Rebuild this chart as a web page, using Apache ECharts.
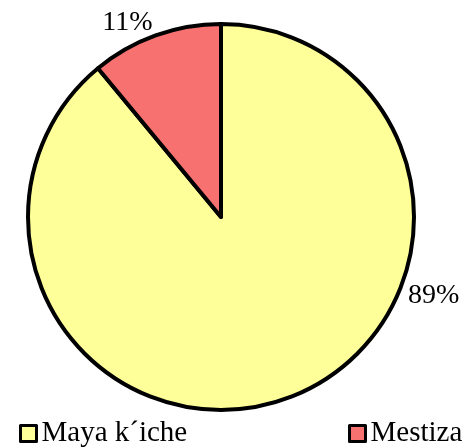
<!DOCTYPE html>
<html>
<head>
<meta charset="utf-8">
<script src="https://cdn.jsdelivr.net/npm/echarts@6/dist/echarts.min.js"></script>
<style>
  html, body { margin: 0; padding: 0; background: #fff; }
  #chart { width: 462px; height: 447px; }
</style>
</head>
<body>
<div id="chart"></div>
<script>
// datos del gráfico
const categories = ['Maya k´iche', 'Mestiza']
const values = [89, 11]
const colors = ['#FFFF99', '#F87171']

const chart = echarts.init(document.getElementById('chart'))

// posición de las etiquetas (fuera del círculo, como en el original)
const labelSpots = [
  { angle: -20.4, dist: 227 },
  { angle: 115.7, dist: 216 }
]
const cx = 221, cy = 217

const legendBase = {
  top: 414,
  icon: 'rect', itemWidth: 16, itemHeight: 16,
  itemStyle: { borderColor: '#000', borderWidth: 3 },
  textStyle: { fontFamily: 'Liberation Serif', fontSize: 29, color: '#000' }
}

const option = {
  animation: false,
  textStyle: { fontFamily: 'Liberation Serif' },
  legend: [
    Object.assign({ data: [categories[0]], left: 14 }, legendBase),
    Object.assign({ data: [categories[1]], left: 343 }, legendBase)
  ],
  series: [
    {
      type: 'pie',
      center: [cx, cy],
      radius: 193,
      startAngle: 90,
      clockwise: true,
      label: {
        show: true,
        formatter: '{c}%',
        fontFamily: 'Liberation Serif',
        fontSize: 28,
        color: '#000'
      },
      labelLine: { show: false },
      labelLayout: (params) => {
        const s = labelSpots[params.dataIndex]
        const a = s.angle * Math.PI / 180
        return {
          x: cx + s.dist * Math.cos(a),
          y: cy - s.dist * Math.sin(a),
          align: 'center',
          verticalAlign: 'middle'
        }
      },
      itemStyle: { borderColor: '#000', borderWidth: 4 },
      emphasis: { disabled: true },
      data: categories.map((name, i) => ({
        name,
        value: values[i],
        itemStyle: { color: colors[i] }
      }))
    }
  ]
}

chart.setOption(option)
</script>
</body>
</html>
